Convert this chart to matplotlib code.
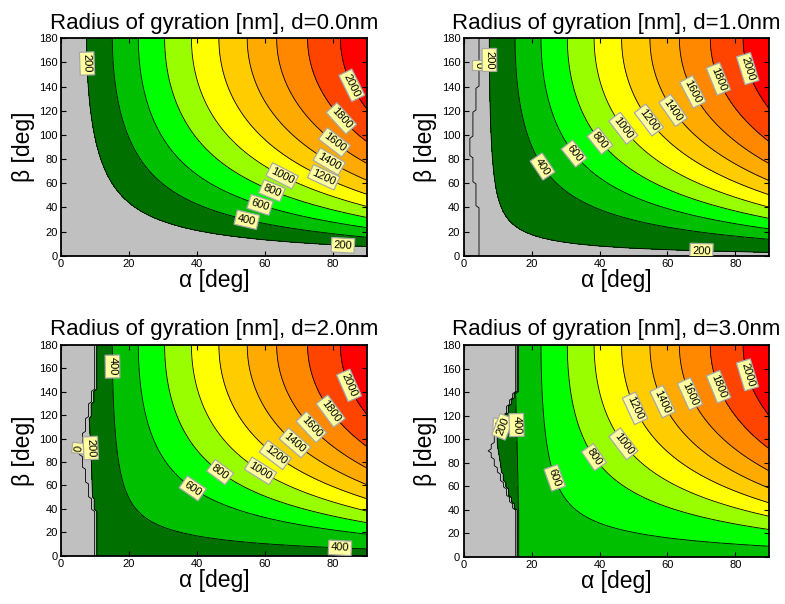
import numpy as np
import matplotlib
matplotlib.use("Agg")
import matplotlib.pyplot as plt

plt.rcParams['font.family'] = ['Liberation Sans', 'DejaVu Sans']

# offset d [nm] of the four panels
d_values = [0.0, 1.0, 2.0, 3.0]
titles = ["Radius of gyration [nm], d=%.1fnm" % d for d in d_values]

# contour levels [nm]
line_levels = [0, 200, 400, 600, 800, 1000, 1200, 1400, 1600, 1800, 2000]
fill_levels = [-10, 200, 400, 600, 800, 1000, 1200, 1400, 1600, 1800, 2000, 5000]
band_colors = ['#c0c0c0', '#007000', '#00bf00', '#00ff00', '#99ff00', '#ffff00',
               '#ffcc00', '#ffaa00', '#ff8800', '#ff4400', '#ff0000']

# values
rg_corner = 2150.0     # Rg at alpha=90, beta=180
rg_per_nm = 185.0      # Rg at beta=0 per nm of d
# grey (excluded) region: alpha at beta=0/180, alpha at beta=90, half width in beta
excl_edge = [0.0, 4.8, 10.5, 16.0]
excl_mid = [0.0, 2.3, 6.0, 8.0]
excl_width = [1.0, 56.0, 60.0, 55.0]

# label positions (alpha, beta) per level, one dict per panel
label_pos = [
    {200: [(7.4, 159), (83, 8.3)], 400: [(54.7, 29.5)], 600: [(58.6, 42)],
     800: [(62, 53)], 1000: [(65, 65.4)], 1200: [(77.2, 64)], 1400: [(79.2, 79)],
     1600: [(80.7, 94.4)], 1800: [(82.6, 113.7)], 2000: [(85.6, 141)]},
    {0: [(4.2, 158)], 200: [(7.2, 162), (70, 3.3)], 400: [(21, 69.6)],
     600: [(31.4, 82)], 800: [(39.2, 93)], 1000: [(47, 105.5)], 1200: [(54.4, 112)],
     1400: [(61.8, 120.6)], 1600: [(67.6, 135.8)], 1800: [(75.5, 146.9)],
     2000: [(83.8, 155)]},
    {0: [(4.1, 91.7)], 200: [(7.4, 91.7)], 400: [(15.2, 161.5), (82.1, 4.3)],
     600: [(36.5, 47.6)], 800: [(44.8, 63.2)], 1000: [(57.1, 64.7)],
     1200: [(62, 81.7)], 1400: [(67.9, 93.1)], 1600: [(72.8, 107.4)],
     1800: [(79.2, 123)], 2000: [(85.1, 145.8)]},
    {0: [(9.3, 113)], 200: [(11.2, 110.5)], 400: [(15.9, 112)], 600: [(26.3, 66.6)],
     800: [(37.1, 82.2)], 1000: [(45.9, 93.5)], 1200: [(49.3, 124.7)],
     1400: [(58.5, 131.8)], 1600: [(65.9, 137.5)], 1800: [(75.1, 144.6)],
     2000: [(83.4, 154.5)]},
]

# axes rectangles in figure fractions
axes_rects = [
    [0.0777, 0.5767, 0.3894, 0.360],
    [0.5907, 0.5767, 0.3894, 0.360],
    [0.0777, 0.0800, 0.3894, 0.349],
    [0.5907, 0.0783, 0.3894, 0.3505],
]


def gyration(a, b, d, k):
    sa, ca = np.sin(np.radians(a / 2)), np.cos(np.radians(a / 2))
    sb, cb = np.sin(np.radians(b / 2)), np.cos(np.radians(b / 2))
    den = np.sqrt(1 - (sa * cb) ** 2)
    r0 = rg_corner * np.sqrt(2) * sa * sb / den
    damp = 1 / (1 + (4.6 * d / np.maximum(a, 0.1)) ** 6)
    rd = rg_per_nm * d * ca * cb * damp / den
    r = np.maximum(np.sqrt(r0 ** 2 + rd ** 2), 1.0)
    # excluded region
    amin = excl_edge[k] - (excl_edge[k] - excl_mid[k]) * np.maximum(0, 1 - np.abs(b - 90) / excl_width[k])
    r[a < amin] = -1.0
    return r


alpha = np.linspace(0, 90, 101)
beta = np.linspace(0, 180, 101)
A, B = np.meshgrid(alpha, beta)

fig = plt.figure(figsize=(7.85, 6.04), dpi=100)

for k, d in enumerate(d_values):
    ax = fig.add_axes(axes_rects[k])
    ax.set_facecolor('#c0c0c0')
    R = gyration(A, B, d, k)
    ax.contourf(A, B, R, levels=fill_levels, colors=band_colors)
    for lev in line_levels:
        if R.max() < lev or (lev == 0 and R.min() > 0):
            continue
        cs = ax.contour(A, B, R, levels=[lev], colors='k', linewidths=0.6)
        pos = label_pos[k].get(lev)
        if not pos:
            continue
        texts = cs.clabel(inline=False, fontsize=8, fmt='%d', manual=pos)
        for t in texts:
            t.set_bbox(dict(boxstyle='square,pad=0.2', facecolor='#ffffa0',
                            edgecolor='#a8a8a8', linewidth=0.9))
    ax.set_xlim(0, 90)
    ax.set_ylim(0, 180)
    ax.set_xticks([0, 20, 40, 60, 80])
    ax.set_yticks(range(0, 181, 20))
    ax.tick_params(direction='in', top=True, right=True, labelsize=8,
                   length=3.5, width=0.8, pad=2.5)
    for s in ax.spines.values():
        s.set_linewidth(1.3)
    ax.set_title(titles[k], fontsize=16, pad=7)
    ax.set_xlabel('α [deg]', fontsize=16.5, labelpad=0)
    ax.set_ylabel('β [deg]', fontsize=16.5, labelpad=3)

fig.savefig('out.png', dpi=100)
